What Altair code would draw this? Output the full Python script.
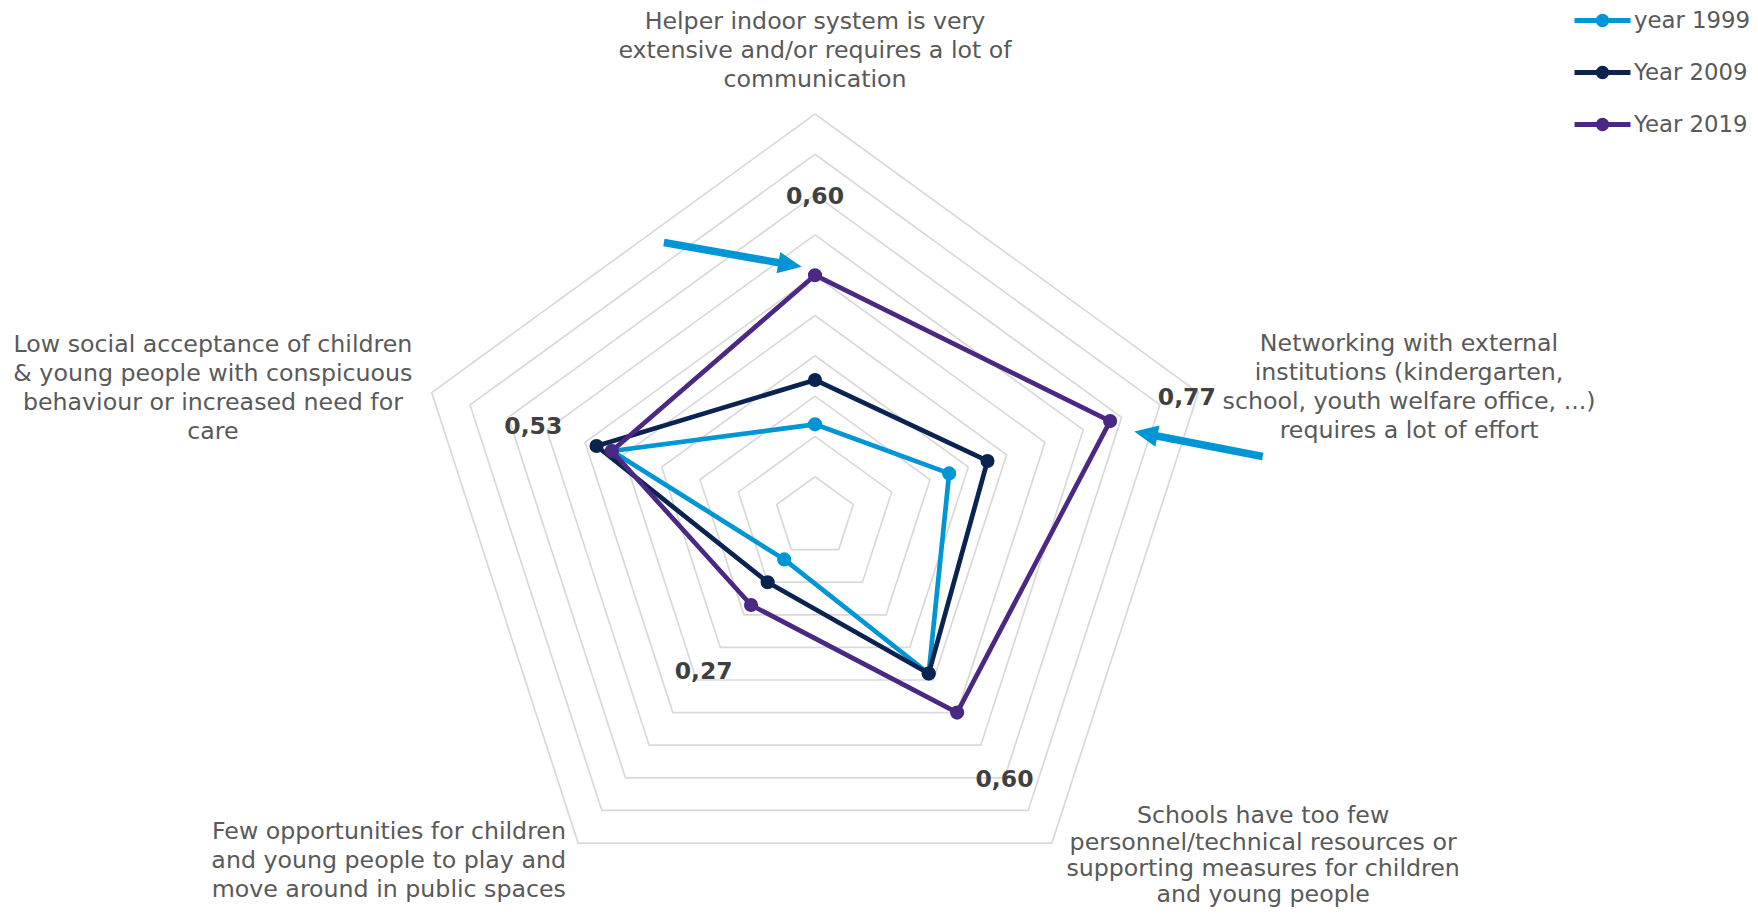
import altair as alt
import pandas as pd

# ---------------- data ----------------
categories = [
    "Helper indoor system is very\nextensive and/or requires a lot of\ncommunication",
    "Networking with external\ninstitutions (kindergarten,\nschool, youth welfare office, ...)\nrequires a lot of effort",
    "Schools have too few\npersonnel/technical resources or\nsupporting measures for children\nand young people",
    "Few opportunities for children\nand young people to play and\nmove around in public spaces",
    "Low social acceptance of children\n& young people with conspicuous\nbehaviour or increased need for\ncare",
]
series_names = ["year 1999", "Year 2009", "Year 2019"]
values_1999 = [0.23, 0.35, 0.48, 0.13, 0.53]
values_2009 = [0.34, 0.45, 0.48, 0.20, 0.57]
values_2019 = [0.60, 0.77, 0.60, 0.27, 0.53]
grid_levels = [0.1, 0.2, 0.3, 0.4, 0.5, 0.6, 0.7, 0.8, 0.9, 1.0]

# ---------------- layout / style ----------------
colors = ["#0096d6", "#0a2351", "#4b2884"]
arrow_color = "#0096d6"
grid_color = "#d9d9d9"
text_color = "#595959"
value_color = "#404040"
FONT = "DejaVu Sans"
N = len(categories)

# where the bold value labels (2019 series) sit along each spoke
value_label_radius = [0.80, 0.97, 0.80, 0.47, 0.735]
# category label anchors (radar units, first-line centre), alignment and line spacing
cat_label_x = [0.0, 1.474, 1.112, -0.618, -1.494]
cat_label_y = [1.2328, 0.4342, -0.737, -0.7767, 0.4318]
cat_label_align = ["center", "center", "center", "right", "center"]
cat_label_leading = [29, 29, 26.3, 29, 29]
# annotation arrows (radar units): tail -> tip
arrow_tail_x = [-0.375, 1.111]
arrow_tail_y = [0.681, 0.150]
arrow_tip_x = [-0.033, 0.792]
arrow_tip_y = [0.621, 0.212]

# scale so that 1 radar unit = 403 px, center at page (815, 517)
W, H = 1742, 900
K = 403.0
cx, cy = 815 - 8, 517 - 8
xdom = [-cx / K, (W - cx) / K]
ydom = [(cy - H) / K, cy / K]
X = lambda f: alt.X(f, type="quantitative", scale=alt.Scale(domain=xdom, nice=False, zero=False), axis=None)
Y = lambda f: alt.Y(f, type="quantitative", scale=alt.Scale(domain=ydom, nice=False, zero=False), axis=None)

# ---------------- tables ----------------
grid_rows = [{"level": lv, "idx": i} for lv in grid_levels for i in range(N + 1)]
grid_df = pd.DataFrame(grid_rows)

series_values = [values_1999, values_2009, values_2019]
ser_rows = []
for name, vals in zip(series_names, series_values):
    for i in range(N + 1):
        ser_rows.append({"series": name, "idx": i, "value": vals[i % N]})
ser_df = pd.DataFrame(ser_rows)

lab_df = pd.DataFrame({
    "text": categories, "lx": cat_label_x, "ly": cat_label_y,
    "align": cat_label_align, "lead": cat_label_leading,
})
val_df = pd.DataFrame({"idx": list(range(N)), "value": values_2019, "r": value_label_radius})
arr_df = pd.DataFrame({"tx": arrow_tail_x, "ty": arrow_tail_y, "hx": arrow_tip_x, "hy": arrow_tip_y})

ang = "2*PI*datum.idx/5"

grid = alt.Chart(grid_df).transform_calculate(
    x=f"datum.level*sin({ang})", y=f"datum.level*cos({ang})"
).mark_line(color=grid_color, strokeWidth=1.7).encode(
    x=X("x"), y=Y("y"), detail="level:N", order="idx:Q"
)

color_scale = alt.Scale(domain=series_names, range=colors)
legend_path = ("M-2.8,0L2.8,0M0.42,0A0.42,0.42,0,1,1,-0.42,0A0.42,0.42,0,1,1,0.42,0"
               "M0.15,0A0.15,0.15,0,1,1,-0.15,0A0.15,0.15,0,1,1,0.15,0")
legend = alt.Legend(
    title=None, orient="none", legendX=1582, legendY=0, padding=0,
    symbolType=legend_path, symbolSize=400, symbolStrokeWidth=5, symbolOpacity=1,
    labelFont=FONT, labelFontSize=22.8, labelColor=text_color, labelOffset=19,
    rowPadding=23, labelLimit=300,
)

layers = [grid]
for k, name in enumerate(series_names):
    base = alt.Chart(ser_df).transform_filter(
        alt.datum.series == name
    ).transform_calculate(
        x=f"datum.value*sin({ang})", y=f"datum.value*cos({ang})"
    )
    line = base.mark_line(strokeWidth=4.7, strokeJoin="round").encode(
        x=X("x"), y=Y("y"), order="idx:Q",
        color=alt.Color("series:N", scale=color_scale, legend=legend),
    )
    pts = base.transform_filter(alt.datum.idx < N).mark_point(
        filled=True, size=200, opacity=1
    ).encode(
        x=X("x"), y=Y("y"),
        color=alt.Color("series:N", scale=color_scale, legend=None),
    )
    layers += [line, pts]

text_layers = []
for align in ["center", "right"]:
    for lead in sorted(set(cat_label_leading)):
        text_layers.append(
            alt.Chart(lab_df).transform_filter(
                (alt.datum.align == align) & (alt.datum.lead == lead)
            ).mark_text(
                font=FONT, fontSize=23.7, color=text_color, align=align, baseline="middle",
                lineBreak="\n", lineHeight=lead, dy=2.2,
            ).encode(x=X("lx"), y=Y("ly"), text="text:N")
        )

vals = alt.Chart(val_df).transform_calculate(
    x=f"datum.r*sin({ang})", y=f"datum.r*cos({ang})",
    t="replace(format(datum.value, '.2f'), '.', ',')",
).mark_text(
    font=FONT, fontSize=23.5, fontWeight="bold", color=value_color, align="center",
    baseline="middle", dy=2,
).encode(x=X("x"), y=Y("y"), text="t:N")

arr_base = alt.Chart(arr_df).transform_calculate(
    dx="datum.hx-datum.tx", dy="datum.hy-datum.ty",
).transform_calculate(
    len="sqrt(datum.dx*datum.dx+datum.dy*datum.dy)",
    ang="(atan2(datum.dx, datum.dy)*180/PI + 360) % 360",
).transform_calculate(
    ex="datum.hx - datum.dx/datum.len*0.035",
    ey="datum.hy - datum.dy/datum.len*0.035",
)
shaft = arr_base.mark_rule(color=arrow_color, strokeWidth=7.5, strokeCap="butt").encode(
    x=X("tx"), y=Y("ty"), x2="ex:Q", y2="ey:Q"
)
head = arr_base.mark_point(
    shape="M0,0L0.5,1.1L-0.5,1.1Z", filled=True, size=1849, opacity=1,
    color=arrow_color, strokeWidth=0,
).encode(x=X("hx"), y=Y("hy"), angle=alt.Angle("ang:Q", scale=None))

chart = alt.layer(*layers, *text_layers, vals, shaft, head).properties(
    width=W, height=H, padding=0, autosize=alt.AutoSizeParams(type="none"),
    background="white",
).configure_view(stroke=None)

chart.save("out.html", embed_options={"renderer": "svg", "actions": False})
